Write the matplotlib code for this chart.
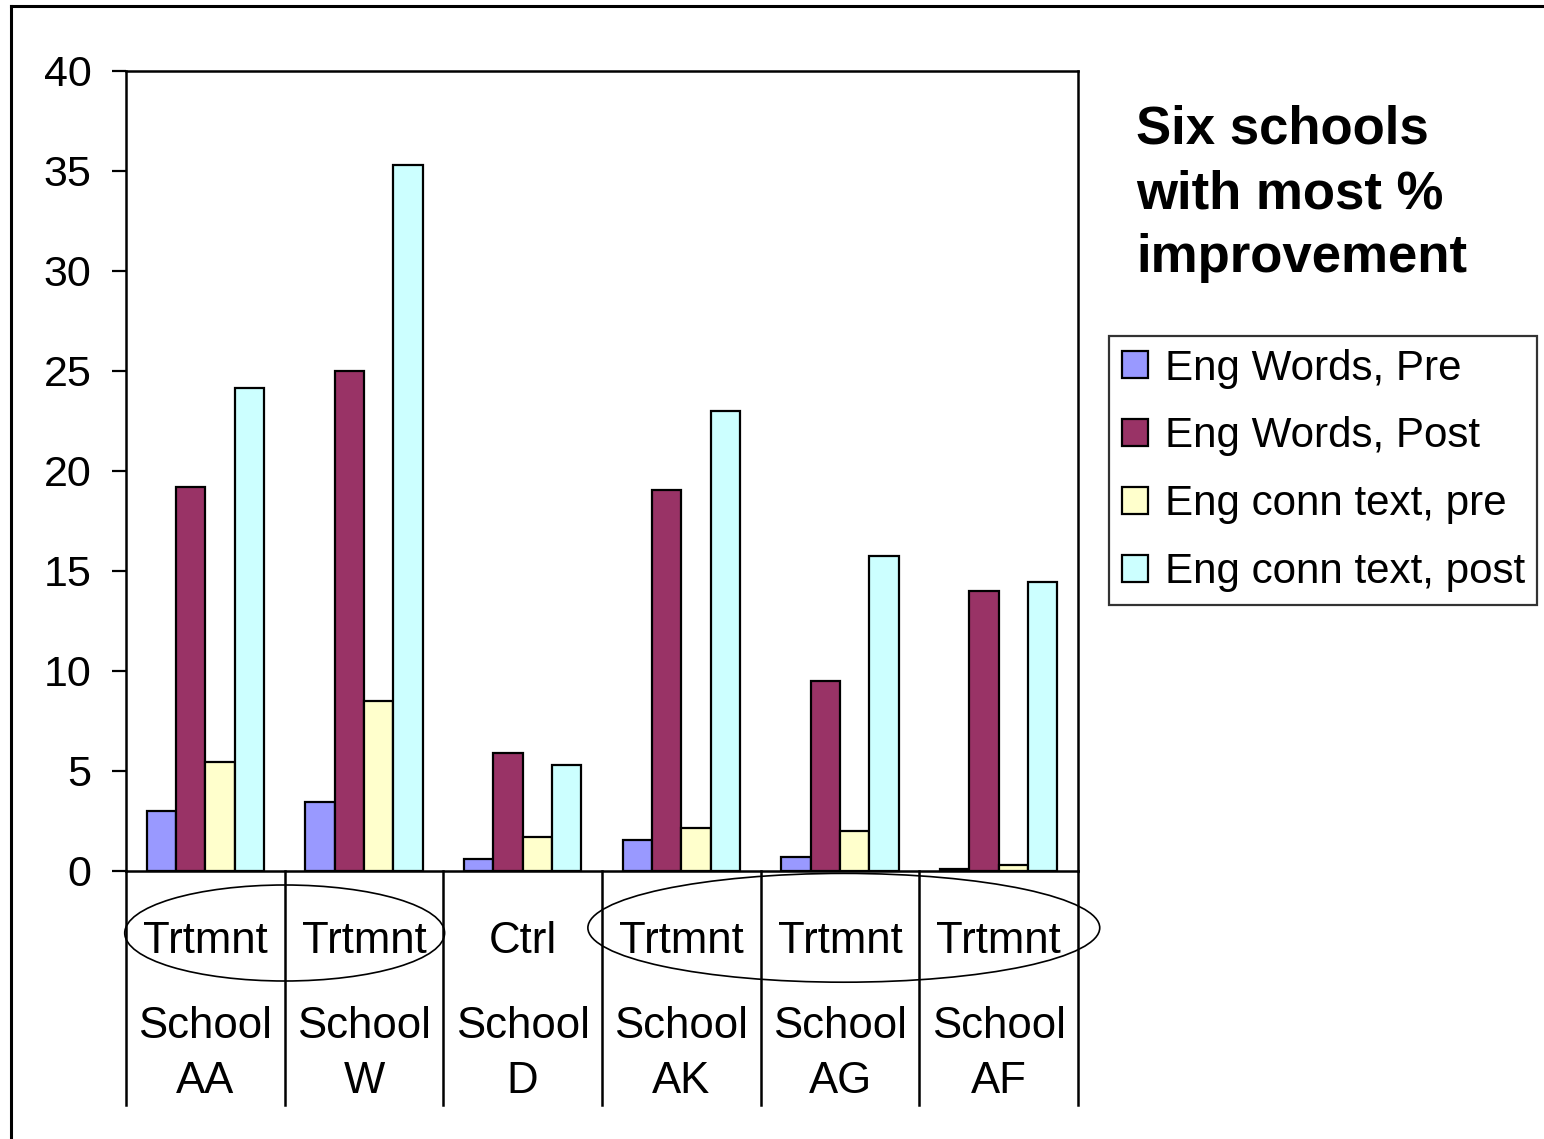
import numpy as np
import matplotlib.pyplot as plt
from matplotlib.patches import Ellipse, Patch
from matplotlib.lines import Line2D
import matplotlib.transforms as mtransforms

plt.rcParams['font.family'] = ['Liberation Sans', 'DejaVu Sans']

# --- data ---
groups = ["Trtmnt", "Trtmnt", "Ctrl", "Trtmnt", "Trtmnt", "Trtmnt"]
schools = ["AA", "W", "D", "AK", "AG", "AF"]
series_names = ["Eng Words, Pre", "Eng Words, Post",
                "Eng conn text, pre", "Eng conn text, post"]
words_pre = [3.0, 3.45, 0.6, 1.55, 0.7, 0.1]
words_post = [19.2, 25.0, 5.9, 19.05, 9.5, 14.0]
conn_pre = [5.45, 8.5, 1.7, 2.15, 2.0, 0.3]
conn_post = [24.15, 35.3, 5.3, 23.0, 15.75, 14.45]
colors = ["#9999FF", "#993366", "#FFFFCC", "#CCFFFF"]

W, H = 1544, 1139
fig = plt.figure(figsize=(W / 100, H / 100), dpi=100)
ax = fig.add_axes([126 / W, (H - 871) / H, (1078 - 126) / W, 800 / H])

x = np.arange(len(schools))
bw = 0.185
for k, (vals, c, name) in enumerate(zip([words_pre, words_post, conn_pre, conn_post],
                                         colors, series_names)):
    ax.bar(x + (k - 1.5) * bw, vals, bw, color=c, edgecolor="black",
           linewidth=1.6, label=name, zorder=3)

ax.set_xlim(-0.5, 5.5)
ax.set_ylim(0, 40)
ax.set_yticks(range(0, 41, 5))
ax.set_xticks([])
ax.tick_params(axis="y", length=10, width=1.6, pad=15, labelsize=31)
for s in ax.spines.values():
    s.set_linewidth(1.8)

# two-level category axis below the plot
trans = mtransforms.blended_transform_factory(ax.transData, ax.transAxes)
for b in np.arange(-0.5, 6.0, 1.0):
    ax.add_line(Line2D([b, b], [0, -0.2925], transform=trans, color="black",
                       linewidth=1.8, clip_on=False))
for i in x:
    ax.text(i, -0.088, groups[i], transform=trans, ha="center", va="center",
            fontsize=31.5)
    ax.text(i, -0.195, "School", transform=trans, ha="center", va="center",
            fontsize=31.5)
    ax.text(i, -0.263, schools[i], transform=trans, ha="center", va="center",
            fontsize=31.5)

# circled treatment groups
ax.add_patch(Ellipse((0.5, -0.0775), 2.016, 0.12, transform=trans, fill=False,
                     edgecolor="black", linewidth=1.2, clip_on=False))
ax.add_patch(Ellipse((4.024, -0.071), 3.226, 0.136, transform=trans, fill=False,
                     edgecolor="black", linewidth=1.2, clip_on=False))

# title at the right
fig.text(1136 / W, 1 - 105 / H, "Six schools\nwith most %\nimprovement",
         ha="left", va="top", fontsize=38, fontweight="bold", linespacing=1.36)

# legend
handles = [Patch(facecolor=c, edgecolor="black", linewidth=1.6) for c in colors]
leg = fig.legend(handles, series_names, loc="upper left",
                 bbox_to_anchor=(1109 / W, 1 - 336 / H), fontsize=30.3,
                 frameon=True, fancybox=False, edgecolor="black",
                 handlelength=0.62, handleheight=0.62, handletextpad=0.4,
                 labelspacing=0.66, borderpad=0.3, borderaxespad=0)
leg.get_frame().set_linewidth(1.6)

# outer frame of the chart area
fig.add_artist(Line2D([11 / W, 11 / W], [0, 1 - 6 / H], transform=fig.transFigure,
                      color="black", linewidth=2.2))
fig.add_artist(Line2D([11 / W, 1], [1 - 6 / H, 1 - 6 / H], transform=fig.transFigure,
                      color="black", linewidth=2.2))

fig.savefig("out.png", dpi=100)
